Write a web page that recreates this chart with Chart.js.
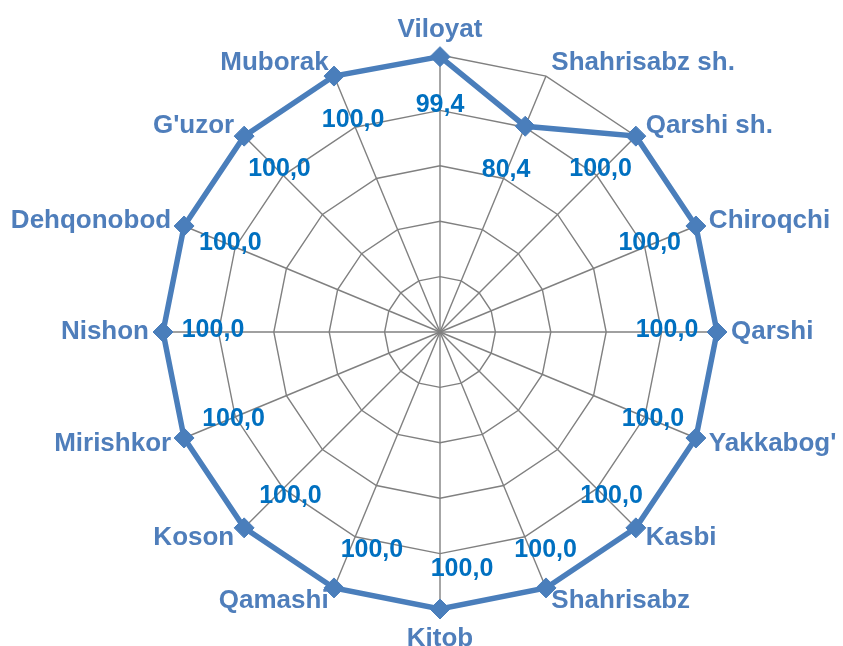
<!DOCTYPE html>
<html>
<head>
<meta charset="utf-8">
<script src="https://cdn.jsdelivr.net/npm/chart.js@4/dist/chart.umd.min.js"></script>
<style>
  html, body { margin: 0; padding: 0; background: #fff; overflow: hidden; }
  #wrap { width: 843px; height: 646px; position: relative; }
</style>
</head>
<body>
<div id="wrap"><canvas id="radar"></canvas></div>
<script>
const categories = ["Viloyat", "Shahrisabz sh.", "Qarshi sh.", "Chiroqchi", "Qarshi", "Yakkabog'",
  "Kasbi", "Shahrisabz", "Kitob", "Qamashi", "Koson", "Mirishkor", "Nishon", "Dehqonobod",
  "G'uzor", "Muborak"];
const values = [99.4, 80.4, 100.0, 100.0, 100.0, 100.0, 100.0, 100.0, 100.0, 100.0,
  100.0, 100.0, 100.0, 100.0, 100.0, 100.0];
const axisMin = 0;
const axisMax = 100;
const axisStep = 20;

const FONT = "'Liberation Sans', Arial, sans-serif";

// value labels + category labels drawn around the web
const labelPlugin = {
  id: 'radarLabels',
  afterDatasetsDraw(chart) {
    const ctx = chart.ctx;
    const r = chart.scales.r;
    const meta = chart.getDatasetMeta(0);
    ctx.save();

    // data values, a bit inside each point
    ctx.font = "bold 25px " + FONT;
    ctx.fillStyle = '#0070C0';
    ctx.textAlign = 'center';
    ctx.textBaseline = 'middle';
    meta.data.forEach(function (pt, i) {
      const v = values[i];
      const a = r.getIndexAngle(i);
      const d = r.getDistanceFromCenterForValue(v) - 50;
      const p = r.getPointPosition(i, d);
      const s = Math.pow(Math.max(0, -Math.cos(a)), 2);
      ctx.fillText(v.toFixed(1).replace('.', ','), p.x + 22 * s, p.y + 12 * s - 2);
    });

    // category names
    ctx.font = "bold 26px " + FONT;
    ctx.fillStyle = '#4F7EBB';
    categories.forEach(function (lab, i) {
      const a = r.getIndexAngle(i);
      const deg = Math.round(a * 180 / Math.PI) % 360;
      let p = r.getPointPosition(i, r.drawingArea + 14);
      if (deg === 0) {
        p = r.getPointPosition(i, r.drawingArea + 12);
        ctx.textAlign = 'center'; ctx.textBaseline = 'bottom';
      } else if (deg === 180) {
        p = r.getPointPosition(i, r.drawingArea + 17);
        ctx.textAlign = 'center'; ctx.textBaseline = 'top';
      } else {
        ctx.textAlign = deg < 180 ? 'left' : 'right';
        ctx.textBaseline = 'middle';
      }
      ctx.fillText(lab, p.x, p.y);
    });
    ctx.restore();
  }
};

new Chart(document.getElementById('radar'), {
  type: 'radar',
  data: {
    labels: categories,
    datasets: [{
      data: values,
      borderColor: '#4A7EBB',
      backgroundColor: '#4A7EBB',
      pointBackgroundColor: '#4A7EBB',
      pointBorderColor: '#4A7EBB',
      borderWidth: 5.5,
      pointStyle: 'rectRot',
      pointRadius: 10,
      pointBorderWidth: 1,
      fill: false,
      tension: 0,
      clip: false
    }]
  },
  options: {
    responsive: true,
    maintainAspectRatio: false,
    animation: false,
    layout: { padding: { left: 163, right: 126, top: 55, bottom: 37 } },
    plugins: {
      legend: { display: false },
      tooltip: { enabled: false }
    },
    scales: {
      r: {
        min: axisMin,
        max: axisMax,
        ticks: { stepSize: axisStep, display: false },
        grid: { color: '#808080', lineWidth: 1.4 },
        angleLines: { color: '#808080', lineWidth: 1.4 },
        pointLabels: { display: false }
      }
    }
  },
  plugins: [labelPlugin]
});
</script>
</body>
</html>
